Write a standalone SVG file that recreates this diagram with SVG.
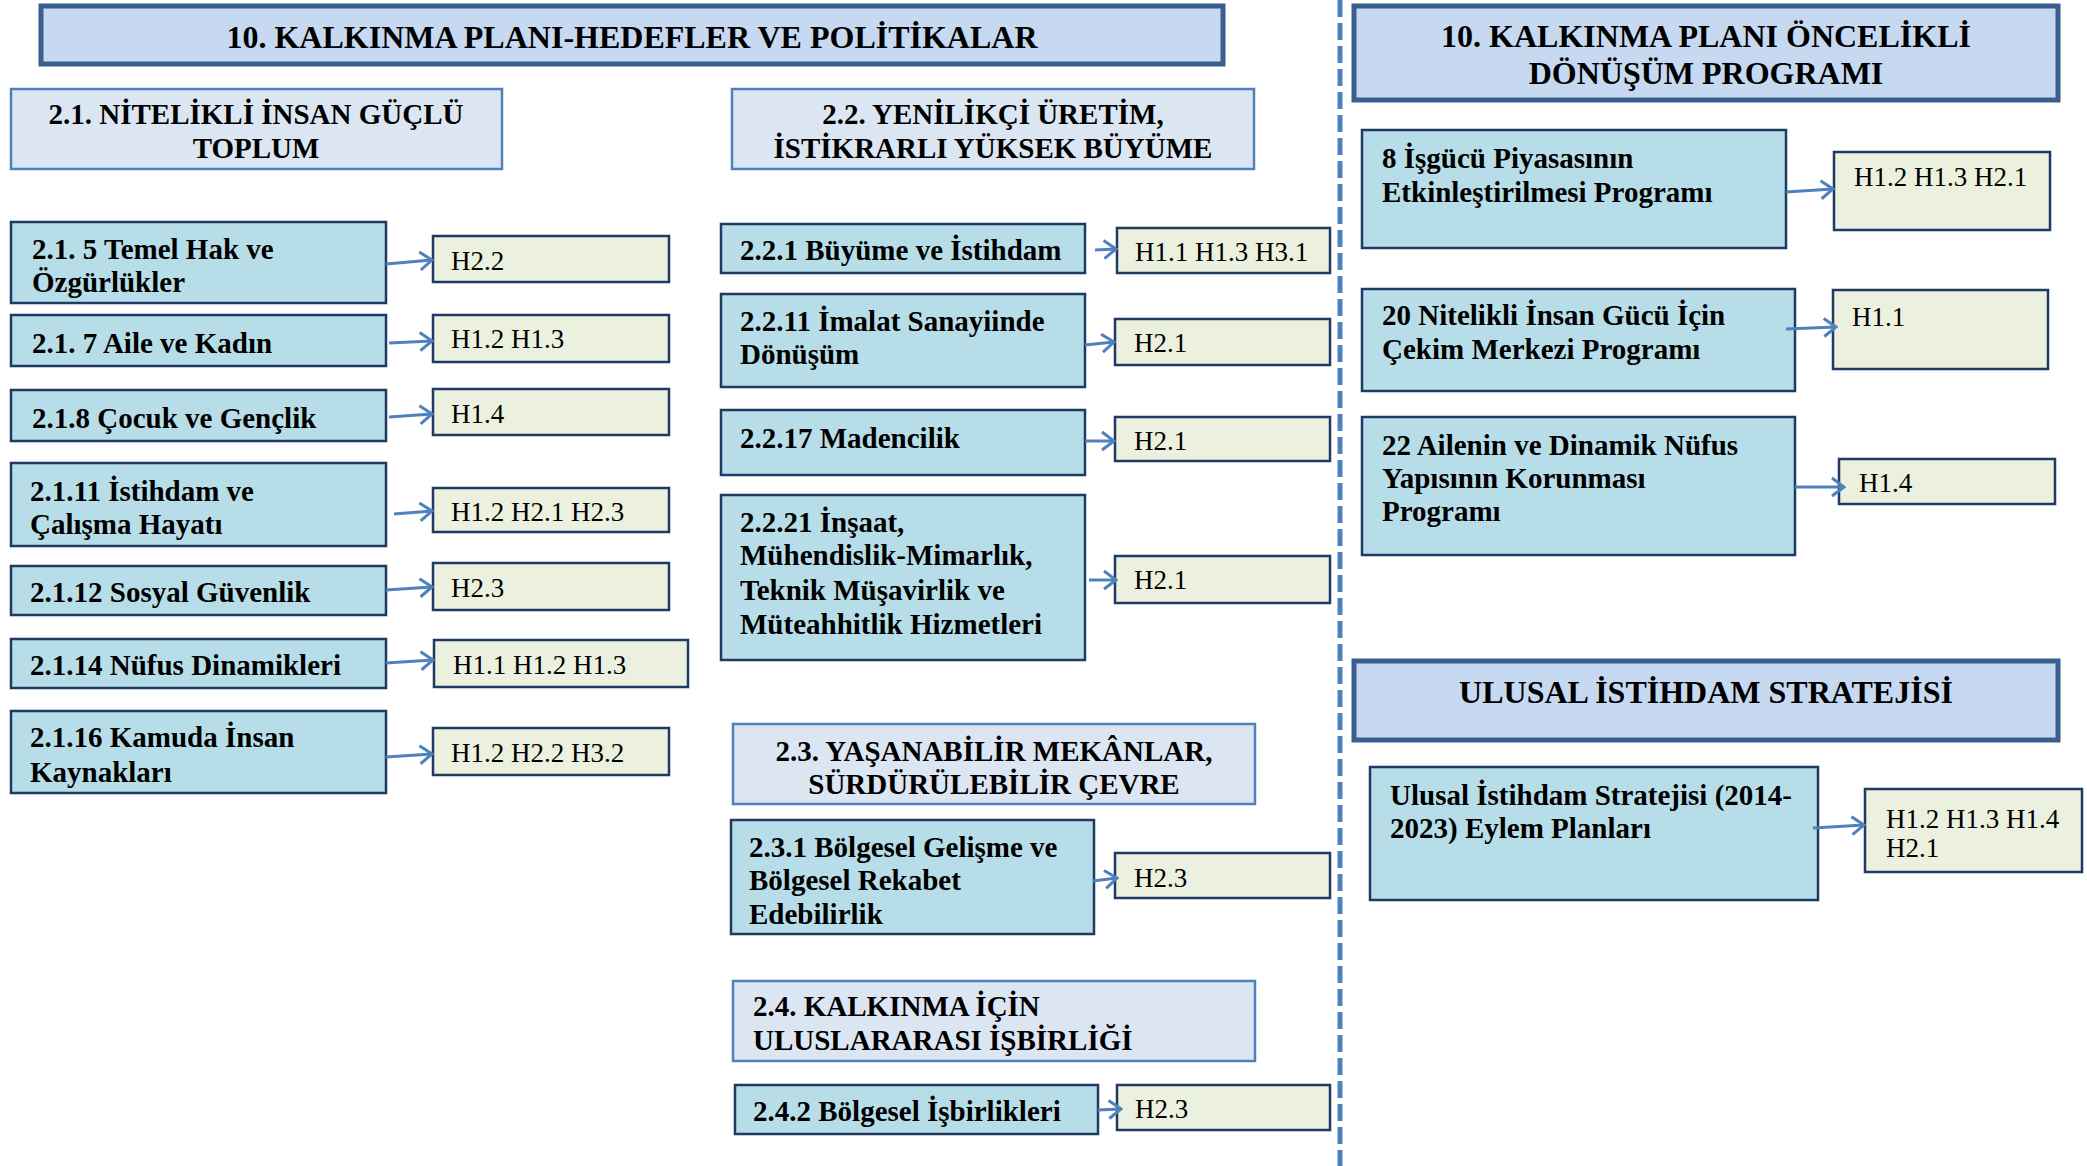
<svg xmlns="http://www.w3.org/2000/svg" width="2087" height="1166" viewBox="0 0 2087 1166">
<style>
.title{fill:#c6d9f1;stroke:#3a5f8f;stroke-width:5}
.sec{fill:#dce6f2;stroke:#4f81bd;stroke-width:2.5}
.item{fill:#b7dee8;stroke:#1f3b63;stroke-width:2.5}
.hbox{fill:#ebf1de;stroke:#1f3b63;stroke-width:2.5}
.tt{font-family:"Liberation Serif","Times New Roman",serif;font-weight:bold;font-size:32px;fill:#000}
.bt{font-family:"Liberation Serif","Times New Roman",serif;font-weight:bold;font-size:29px;fill:#000}
.ht{font-family:"Liberation Serif","Times New Roman",serif;font-size:27px;fill:#000}
.c{text-anchor:middle}
.arr{stroke:#4f81bd;stroke-width:3;fill:none;marker-end:url(#ah)}
</style>
<defs>
<marker id="ah" markerUnits="userSpaceOnUse" markerWidth="16" markerHeight="22" viewBox="0 0 16 22" refX="14" refY="11" orient="auto">
<path d="M2,2 L14,11 L2,20" fill="none" stroke="#4f81bd" stroke-width="3"/>
</marker>
</defs>
<rect width="2087" height="1166" fill="#ffffff"/>
<line x1="1340" y1="0" x2="1340" y2="1166" stroke="#4f81bd" stroke-width="5" stroke-dasharray="17 6"/>

<g id="title1"><rect class="title" x="41" y="6" width="1182" height="58"/><text class="tt c" x="632" y="48">10. KALKINMA PLANI-HEDEFLER VE POLİTİKALAR</text></g>
<g id="title2"><rect class="title" x="1354" y="6" width="704" height="94"/><text class="tt c" x="1706" y="47">10. KALKINMA PLANI ÖNCELİKLİ</text><text class="tt c" x="1706" y="84">DÖNÜŞÜM PROGRAMI</text></g>
<g id="title3"><rect class="title" x="1354" y="661" width="704" height="79"/><text class="tt c" x="1706" y="703">ULUSAL İSTİHDAM STRATEJİSİ</text></g>

<g id="sec21"><rect class="sec" x="11" y="89" width="491" height="80"/><text class="bt c" x="256" y="124">2.1. NİTELİKLİ İNSAN GÜÇLÜ</text><text class="bt c" x="256" y="158">TOPLUM</text></g>
<g id="sec22"><rect class="sec" x="732" y="89" width="522" height="80"/><text class="bt c" x="993" y="124">2.2. YENİLİKÇİ ÜRETİM,</text><text class="bt c" x="993" y="158">İSTİKRARLI YÜKSEK BÜYÜME</text></g>
<g id="sec23"><rect class="sec" x="733" y="724" width="522" height="80"/><text class="bt c" x="994" y="761">2.3. YAŞANABİLİR MEKÂNLAR,</text><text class="bt c" x="994" y="794">SÜRDÜRÜLEBİLİR ÇEVRE</text></g>
<g id="sec24"><rect class="sec" x="733" y="981" width="522" height="80"/><text class="bt" x="753" y="1016">2.4. KALKINMA İÇİN</text><text class="bt" x="753" y="1050">ULUSLARARASI İŞBİRLİĞİ</text></g>

<g id="n215"><rect class="item" x="11" y="222" width="375" height="81"/><text class="bt" x="32" y="259">2.1. 5 Temel Hak ve</text><text class="bt" x="32" y="292">Özgürlükler</text></g>
<g id="n217"><rect class="item" x="11" y="315" width="375" height="51"/><text class="bt" x="32" y="353">2.1. 7 Aile ve Kadın</text></g>
<g id="n218"><rect class="item" x="11" y="390" width="375" height="51"/><text class="bt" x="32" y="428">2.1.8 Çocuk ve Gençlik</text></g>
<g id="n2111"><rect class="item" x="11" y="463" width="375" height="83"/><text class="bt" x="30" y="501">2.1.11 İstihdam ve</text><text class="bt" x="30" y="534">Çalışma Hayatı</text></g>
<g id="n2112"><rect class="item" x="11" y="566" width="375" height="49"/><text class="bt" x="30" y="602">2.1.12 Sosyal Güvenlik</text></g>
<g id="n2114"><rect class="item" x="11" y="639" width="375" height="49"/><text class="bt" x="30" y="675">2.1.14 Nüfus Dinamikleri</text></g>
<g id="n2116"><rect class="item" x="11" y="711" width="375" height="82"/><text class="bt" x="30" y="747">2.1.16 Kamuda İnsan</text><text class="bt" x="30" y="782">Kaynakları</text></g>

<g id="h215"><rect class="hbox" x="433" y="236" width="236" height="46"/><text class="ht" x="451" y="270">H2.2</text></g>
<g id="h217"><rect class="hbox" x="433" y="315" width="236" height="47"/><text class="ht" x="451" y="348">H1.2 H1.3</text></g>
<g id="h218"><rect class="hbox" x="433" y="389" width="236" height="46"/><text class="ht" x="451" y="423">H1.4</text></g>
<g id="h2111"><rect class="hbox" x="433" y="488" width="236" height="44"/><text class="ht" x="451" y="521">H1.2 H2.1 H2.3</text></g>
<g id="h2112"><rect class="hbox" x="433" y="563" width="236" height="47"/><text class="ht" x="451" y="597">H2.3</text></g>
<g id="h2114"><rect class="hbox" x="434" y="640" width="254" height="47"/><text class="ht" x="453" y="674">H1.1 H1.2 H1.3</text></g>
<g id="h2116"><rect class="hbox" x="433" y="728" width="236" height="47"/><text class="ht" x="451" y="762">H1.2 H2.2 H3.2</text></g>

<g id="n221"><rect class="item" x="721" y="224" width="364" height="49"/><text class="bt" x="740" y="260">2.2.1 Büyüme ve İstihdam</text></g>
<g id="n2211"><rect class="item" x="721" y="294" width="364" height="93"/><text class="bt" x="740" y="331">2.2.11 İmalat Sanayiinde</text><text class="bt" x="740" y="364">Dönüşüm</text></g>
<g id="n2217"><rect class="item" x="721" y="410" width="364" height="65"/><text class="bt" x="740" y="448">2.2.17 Madencilik</text></g>
<g id="n2221"><rect class="item" x="721" y="495" width="364" height="165"/><text class="bt" x="740" y="532">2.2.21 İnşaat,</text><text class="bt" x="740" y="565">Mühendislik-Mimarlık,</text><text class="bt" x="740" y="600">Teknik Müşavirlik ve</text><text class="bt" x="740" y="634">Müteahhitlik Hizmetleri</text></g>
<g id="n231"><rect class="item" x="731" y="820" width="363" height="114"/><text class="bt" x="749" y="857">2.3.1 Bölgesel Gelişme ve</text><text class="bt" x="749" y="890">Bölgesel Rekabet</text><text class="bt" x="749" y="924">Edebilirlik</text></g>
<g id="n242"><rect class="item" x="735" y="1085" width="363" height="49"/><text class="bt" x="753" y="1121">2.4.2 Bölgesel İşbirlikleri</text></g>

<g id="h221"><rect class="hbox" x="1117" y="228" width="213" height="45"/><text class="ht" x="1135" y="261">H1.1 H1.3 H3.1</text></g>
<g id="h2211"><rect class="hbox" x="1115" y="319" width="215" height="46"/><text class="ht" x="1134" y="352">H2.1</text></g>
<g id="h2217"><rect class="hbox" x="1115" y="417" width="215" height="44"/><text class="ht" x="1134" y="450">H2.1</text></g>
<g id="h2221"><rect class="hbox" x="1115" y="556" width="215" height="47"/><text class="ht" x="1134" y="589">H2.1</text></g>
<g id="h231"><rect class="hbox" x="1115" y="853" width="215" height="45"/><text class="ht" x="1134" y="887">H2.3</text></g>
<g id="h242"><rect class="hbox" x="1117" y="1085" width="213" height="45"/><text class="ht" x="1135" y="1118">H2.3</text></g>

<g id="p8"><rect class="item" x="1362" y="130" width="424" height="118"/><text class="bt" x="1382" y="168">8 İşgücü Piyasasının</text><text class="bt" x="1382" y="202">Etkinleştirilmesi Programı</text></g>
<g id="p20"><rect class="item" x="1362" y="289" width="433" height="102"/><text class="bt" x="1382" y="325">20 Nitelikli İnsan Gücü İçin</text><text class="bt" x="1382" y="359">Çekim Merkezi Programı</text></g>
<g id="p22"><rect class="item" x="1362" y="417" width="433" height="138"/><text class="bt" x="1382" y="455">22 Ailenin ve Dinamik Nüfus</text><text class="bt" x="1382" y="488">Yapısının Korunması</text><text class="bt" x="1382" y="521">Programı</text></g>
<g id="pUIS"><rect class="item" x="1370" y="767" width="448" height="133"/><text class="bt" x="1390" y="805">Ulusal İstihdam Stratejisi (2014-</text><text class="bt" x="1390" y="838">2023) Eylem Planları</text></g>

<g id="hp8"><rect class="hbox" x="1834" y="152" width="216" height="78"/><text class="ht" x="1854" y="186">H1.2 H1.3 H2.1</text></g>
<g id="hp20"><rect class="hbox" x="1833" y="290" width="215" height="79"/><text class="ht" x="1852" y="326">H1.1</text></g>
<g id="hp22"><rect class="hbox" x="1839" y="459" width="216" height="45"/><text class="ht" x="1859" y="492">H1.4</text></g>
<g id="hpUIS"><rect class="hbox" x="1865" y="789" width="217" height="83"/><text class="ht" x="1886" y="828">H1.2 H1.3 H1.4</text><text class="ht" x="1886" y="857">H2.1</text></g>

<g id="connectors">
<line class="arr" x1="386" y1="264" x2="432" y2="260"/>
<line class="arr" x1="389" y1="343" x2="432" y2="341"/>
<line class="arr" x1="389" y1="417" x2="432" y2="414"/>
<line class="arr" x1="394" y1="514" x2="432" y2="511"/>
<line class="arr" x1="386" y1="590" x2="432" y2="587"/>
<line class="arr" x1="386" y1="663" x2="433" y2="660"/>
<line class="arr" x1="386" y1="757" x2="432" y2="754"/>
<line class="arr" x1="1095" y1="250" x2="1116" y2="249"/>
<line class="arr" x1="1085" y1="345" x2="1114" y2="342"/>
<line class="arr" x1="1085" y1="441" x2="1114" y2="441"/>
<line class="arr" x1="1089" y1="580" x2="1116" y2="580"/>
<line class="arr" x1="1093" y1="881" x2="1117" y2="878"/>
<line class="arr" x1="1098" y1="1110" x2="1121" y2="1109"/>
<line class="arr" x1="1786" y1="192" x2="1833" y2="189"/>
<line class="arr" x1="1786" y1="329" x2="1836" y2="327"/>
<line class="arr" x1="1795" y1="487" x2="1844" y2="487"/>
<line class="arr" x1="1813" y1="828" x2="1864" y2="825"/>
</g>
</svg>
